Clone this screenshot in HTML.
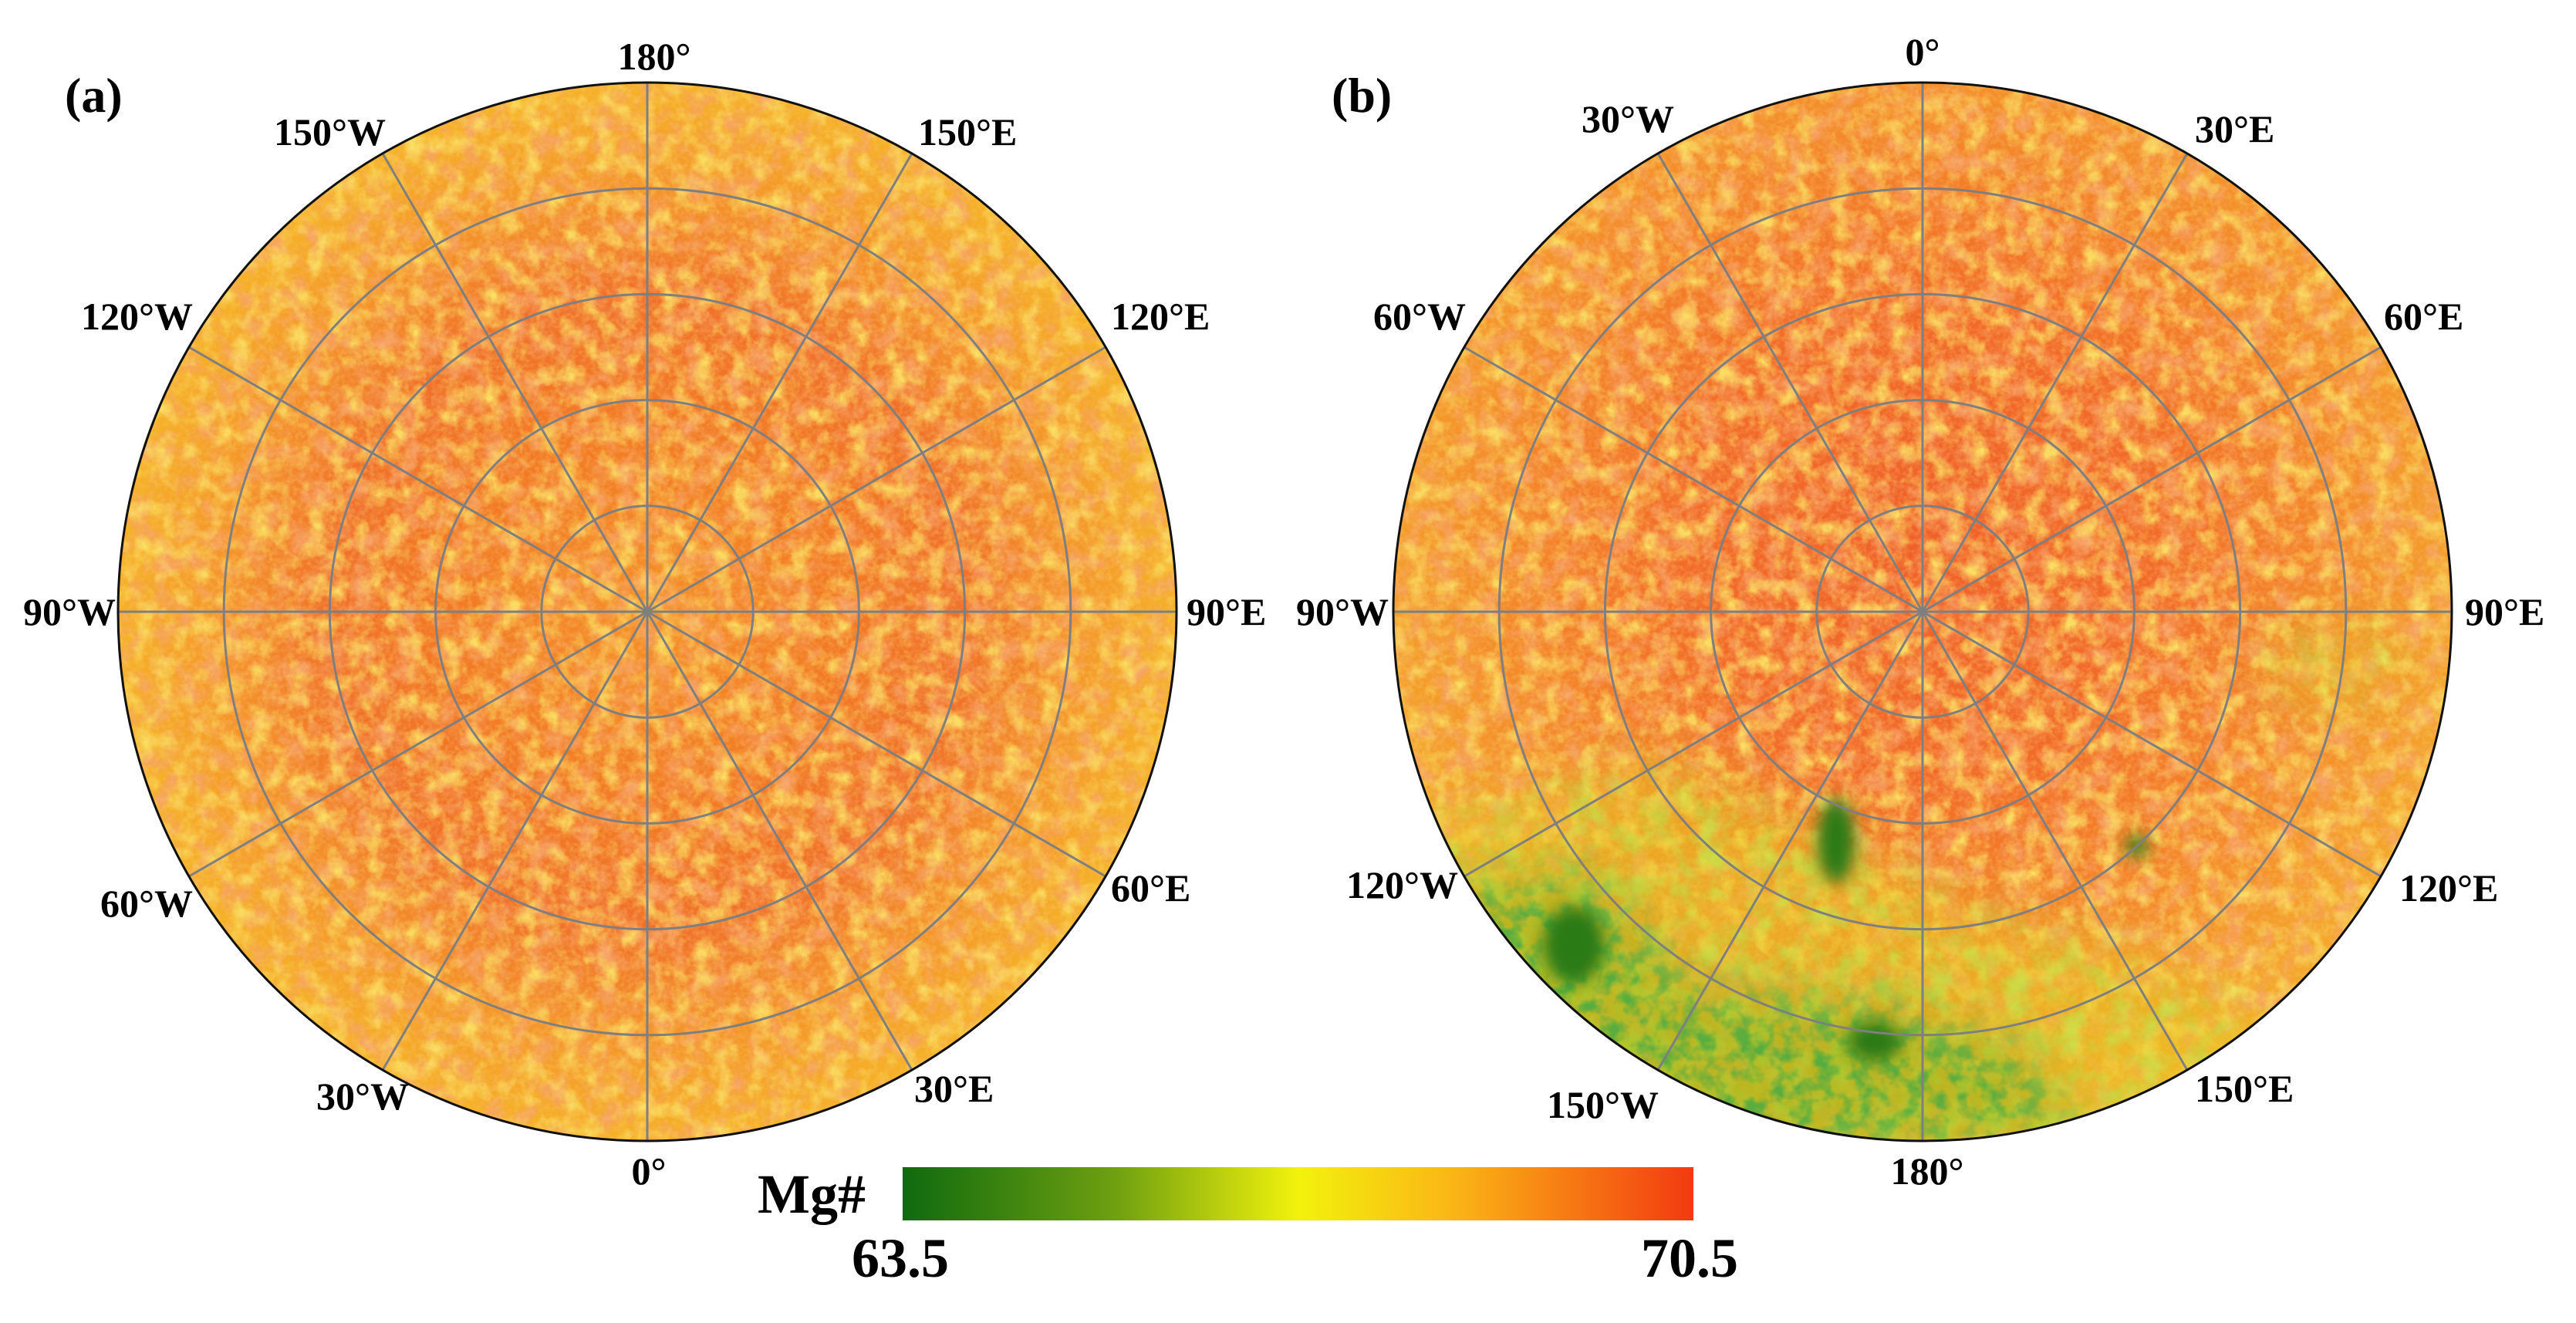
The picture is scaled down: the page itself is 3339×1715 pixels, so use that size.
<!DOCTYPE html>
<html><head><meta charset="utf-8">
<style>
html,body{margin:0;padding:0;background:#fff;}
svg{display:block;}
text{font-family:"Liberation Serif",serif;font-weight:bold;fill:#000;}
</style></head>
<body>
<svg id="fig" width="3339" height="1715" viewBox="0 0 3339 1715" xmlns="http://www.w3.org/2000/svg">
<defs>
  <clipPath id="clipA"><circle cx="839" cy="793" r="686"/></clipPath>
  <clipPath id="clipB"><circle cx="2492" cy="793" r="686"/></clipPath>
  <radialGradient id="baseA" cx="839" cy="793" r="686" gradientUnits="userSpaceOnUse">
    <stop offset="0" stop-color="#f4902a"/>
    <stop offset="0.35" stop-color="#f27a24"/>
    <stop offset="0.6" stop-color="#f0702a"/>
    <stop offset="0.8" stop-color="#f4942a"/>
    <stop offset="1" stop-color="#f6b226"/>
  </radialGradient>
  <radialGradient id="baseB" cx="2492" cy="700" r="760" gradientUnits="userSpaceOnUse">
    <stop offset="0" stop-color="#f0602a"/>
    <stop offset="0.4" stop-color="#f26a28"/>
    <stop offset="0.75" stop-color="#f48c2a"/>
    <stop offset="1" stop-color="#f4aa2a"/>
  </radialGradient>
  <linearGradient id="cbGrad" x1="0" x2="1" y1="0" y2="0"></linearGradient>
  <filter id="yellowNoise" x="0" y="0" width="100%" height="100%">
    <feTurbulence type="fractalNoise" baseFrequency="0.04" numOctaves="4" seed="3"/>
    <feColorMatrix type="matrix" values="0 0 0 0 0.96  0 0 0 0 0.74  0 0 0 0 0.12  2.4 0 0 0 -1.05"/>
  </filter>
  <filter id="redNoise" x="0" y="0" width="100%" height="100%">
    <feTurbulence type="fractalNoise" baseFrequency="0.035" numOctaves="4" seed="11"/>
    <feColorMatrix type="matrix" values="0 0 0 0 0.93  0 0 0 0 0.36  0 0 0 0 0.14  0 2.4 0 0 -1.05"/>
  </filter>
  <filter id="grain" x="0" y="0" width="100%" height="100%">
    <feTurbulence type="fractalNoise" baseFrequency="0.15" numOctaves="2" seed="5"/>
    <feColorMatrix type="matrix" values="0 0 0 0 0.95  0 0 0 0 0.55  0 0 0 0 0.15  1.6 0 0 0 -0.6"/>
  </filter>
  <filter id="greenNoise" x="0" y="0" width="100%" height="100%">
    <feTurbulence type="fractalNoise" baseFrequency="0.03" numOctaves="4" seed="7"/>
    <feColorMatrix type="matrix" values="0 0 0 0 0.55  0 0 0 0 0.72  0 0 0 0 0.05  3.0 0 0 0 -1.3"/>
  </filter>
  <filter id="blur30"><feGaussianBlur stdDeviation="30"/></filter>
  <filter id="blur12"><feGaussianBlur stdDeviation="10"/></filter>
  <filter id="darkGreenNoise" x="0" y="0" width="100%" height="100%">
    <feTurbulence type="fractalNoise" baseFrequency="0.04" numOctaves="3" seed="21"/>
    <feColorMatrix type="matrix" values="0 0 0 0 0.10  0 0 0 0 0.42  0 0 0 0 0.05  3.5 0 0 0 -1.5"/>
  </filter>
  <mask id="greenMaskB">
    <rect x="1800" y="100" width="1400" height="1400" fill="#000"/>
    <g filter="url(#blur30)">
      <path d="M1800 1080 L2150 980 L2380 1080 L2560 1180 L2760 1230 L2950 1340 L2900 1500 L2400 1520 L1900 1400 Z" fill="#ccc"/>
      <ellipse cx="3020" cy="860" rx="90" ry="60" fill="#888"/>
    </g>
  </mask>
  <mask id="darkMaskB">
    <rect x="1800" y="100" width="1400" height="1400" fill="#000"/>
    <g filter="url(#blur30)">
      <path d="M1840 1150 L2060 1130 L2200 1280 L2450 1300 L2620 1360 L2700 1470 L2200 1500 L1950 1380 Z" fill="#fff"/>
    </g>
  </mask>
</defs>

<!-- Panel (a) -->
<g clip-path="url(#clipA)">
  <rect x="150" y="100" width="1380" height="1390" fill="url(#baseA)"/>
  <rect x="150" y="100" width="1380" height="1390" filter="url(#redNoise)"/>
  <rect x="150" y="100" width="1380" height="1390" filter="url(#yellowNoise)"/>
  <rect x="150" y="100" width="1380" height="1390" filter="url(#grain)" opacity="0.5"/>
</g>
<g id="gridA"></g>
<circle cx="839" cy="793" r="686" fill="none" stroke="#111" stroke-width="3"/>

<!-- Panel (b) -->
<g clip-path="url(#clipB)">
  <rect x="1800" y="100" width="1390" height="1390" fill="url(#baseB)"/>
  <rect x="1800" y="100" width="1390" height="1390" filter="url(#redNoise)"/>
  <rect x="1800" y="100" width="1390" height="1390" filter="url(#yellowNoise)"/>
  <rect x="1800" y="100" width="1390" height="1390" filter="url(#grain)" opacity="0.5"/>
  <g mask="url(#greenMaskB)">
    <rect x="1800" y="100" width="1390" height="1390" fill="#e6c81e" opacity="0.6"/>
    <rect x="1800" y="100" width="1390" height="1390" filter="url(#greenNoise)"/>
  </g>
  <g mask="url(#darkMaskB)">
    <rect x="1800" y="100" width="1390" height="1390" fill="#8ab41a" opacity="0.5"/>
    <rect x="1800" y="100" width="1390" height="1390" filter="url(#darkGreenNoise)"/>
  </g>
  <g filter="url(#blur12)" fill="#2c7a12">
    <ellipse cx="2040" cy="1225" rx="40" ry="50"/>
    <ellipse cx="2380" cy="1090" rx="24" ry="55"/>
    <ellipse cx="2430" cy="1350" rx="35" ry="26"/>
    <ellipse cx="2770" cy="1097" rx="14" ry="14"/>
  </g>
</g>
<g id="gridB"></g>
<circle cx="2492" cy="793" r="686" fill="none" stroke="#111" stroke-width="3"/>

<!-- Panel letters -->
<text x="84" y="145" font-size="64">(a)</text>
<text x="1726" y="145" font-size="64">(b)</text>

<g id="labels" font-size="50"></g>

<!-- Colorbar -->
<rect x="1170" y="1513" width="1025" height="69" fill="url(#cbGrad)"/>
<text x="982" y="1572" font-size="72">Mg#</text>
<text id="cbMin" x="1167" y="1655" font-size="72" text-anchor="middle"></text>
<text id="cbMax" x="2190" y="1655" font-size="72" text-anchor="middle"></text>
</svg>

<script>
// Data arrays
const ringFractions = [0.2, 0.4, 0.6, 0.8];
const meridianAngles = [0, 30, 60, 90, 120, 150];
const colorbarRange = [63.5, 70.5];
const colorbarColors = ["#0f6a0f", "#6fa010", "#f2f20c", "#fbb416", "#f23a10"];
const colorbarOffsets = [0, 0.27, 0.5, 0.7, 1];
const labelsA = ["180°","150°W","150°E","120°W","120°E","90°W","90°E","60°W","60°E","30°W","30°E","0°"];
const labelsB = ["0°","30°W","30°E","60°W","60°E","90°W","90°E","120°W","120°E","150°W","150°E","180°"];

const NS = "http://www.w3.org/2000/svg";
const R = 686;
function drawGrid(id, cx, cy) {
  const g = document.getElementById(id);
  ringFractions.forEach(f => {
    const c = document.createElementNS(NS, "circle");
    c.setAttribute("cx", cx); c.setAttribute("cy", cy); c.setAttribute("r", f * R);
    c.setAttribute("fill", "none"); c.setAttribute("stroke", "#7f7f7f"); c.setAttribute("stroke-width", "3");
    
    
    g.appendChild(c);
  });
  meridianAngles.forEach(a => {
    const t = a * Math.PI / 180;
    const l = document.createElementNS(NS, "line");
    l.setAttribute("x1", cx - Math.sin(t) * R); l.setAttribute("y1", cy - Math.cos(t) * R);
    l.setAttribute("x2", cx + Math.sin(t) * R); l.setAttribute("y2", cy + Math.cos(t) * R);
    l.setAttribute("stroke", "#7f7f7f"); l.setAttribute("stroke-width", "3");
    
    
    g.appendChild(l);
  });
}
drawGrid("gridA", 839, 793);
drawGrid("gridB", 2492, 793);

const posA = [[848,90,"middle"],[500,188,"end"],[1190,188,"start"],[250,427,"end"],[1440,427,"start"],[150,810,"end"],[1538,810,"start"],[250,1188,"end"],[1440,1168,"start"],[530,1438,"end"],[1185,1428,"start"],[841,1535,"middle"]];
const posB = [[2492,84,"middle"],[2170,171,"end"],[2845,184,"start"],[1900,427,"end"],[3090,427,"start"],[1800,810,"end"],[3195,810,"start"],[1890,1164,"end"],[3110,1168,"start"],[2150,1449,"end"],[2845,1428,"start"],[2498,1535,"middle"]];
const lg = document.getElementById("labels");
function addLabels(arr, pos, prefix) {
  arr.forEach((s, i) => {
    const t = document.createElementNS(NS, "text");
    t.setAttribute("x", pos[i][0]); t.setAttribute("y", pos[i][1]);
    t.setAttribute("text-anchor", pos[i][2]);
    t.textContent = s;
    
    
    lg.appendChild(t);
  });
}
addLabels(labelsA, posA, "map-a");
addLabels(labelsB, posB, "map-b");

const grad = document.getElementById("cbGrad");
colorbarColors.forEach((c, i) => {
  const s = document.createElementNS(NS, "stop");
  s.setAttribute("offset", colorbarOffsets[i]); s.setAttribute("stop-color", c);
  grad.appendChild(s);
});
document.getElementById("cbMin").textContent = colorbarRange[0].toFixed(1);
document.getElementById("cbMax").textContent = colorbarRange[1].toFixed(1);
</script>
</body></html>
